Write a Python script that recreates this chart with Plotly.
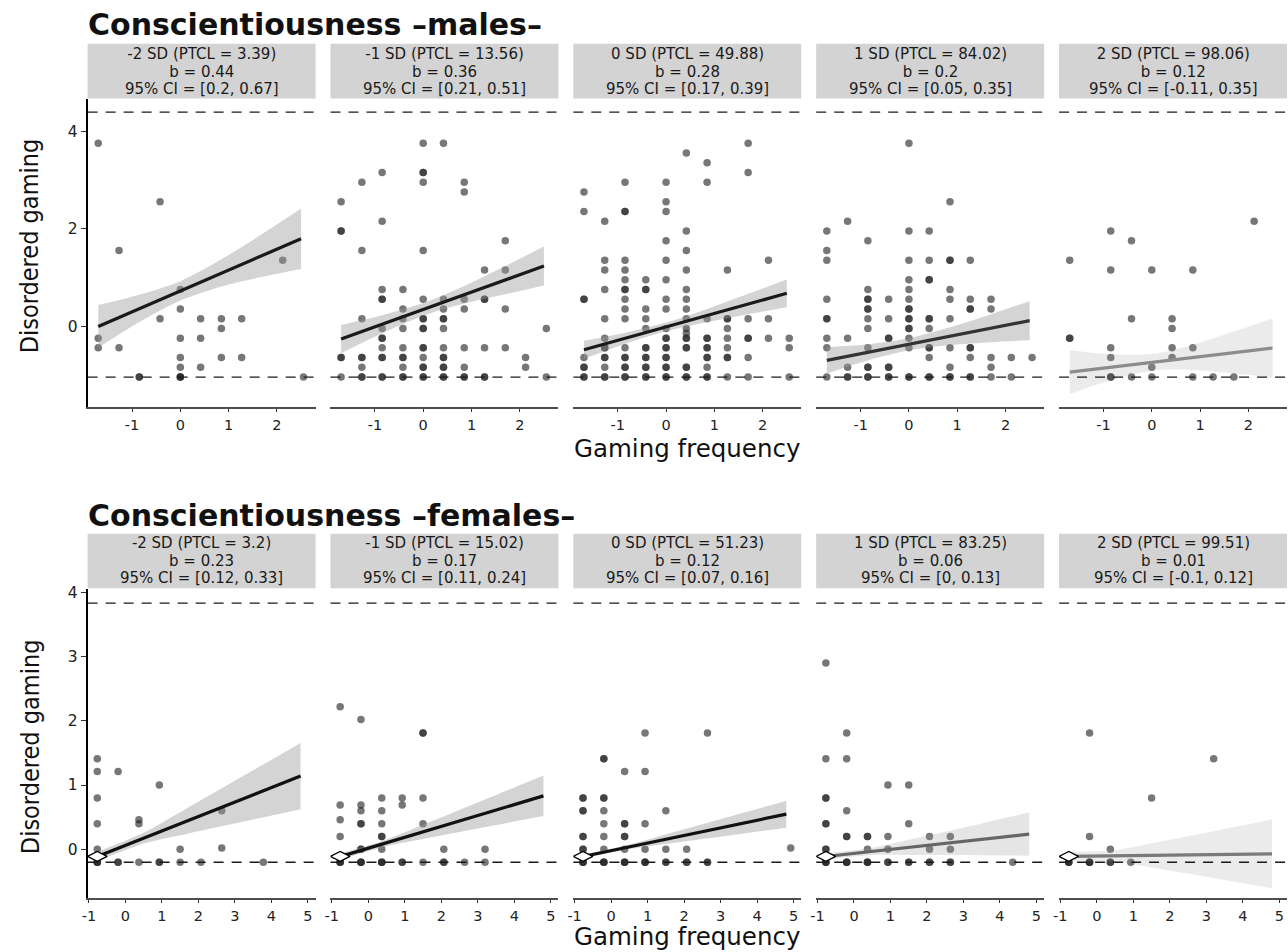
import plotly.graph_objects as go

# ---------------- data ----------------
STRIPS_M = [["-2 SD (PTCL = 3.39)", "b = 0.44", "95% CI = [0.2, 0.67]"],
            ["-1 SD (PTCL = 13.56)", "b = 0.36", "95% CI = [0.21, 0.51]"],
            ["0 SD (PTCL = 49.88)", "b = 0.28", "95% CI = [0.17, 0.39]"],
            ["1 SD (PTCL = 84.02)", "b = 0.2", "95% CI = [0.05, 0.35]"],
            ["2 SD (PTCL = 98.06)", "b = 0.12", "95% CI = [-0.11, 0.35]"]]
STRIPS_F = [["-2 SD (PTCL = 3.2)", "b = 0.23", "95% CI = [0.12, 0.33]"],
            ["-1 SD (PTCL = 15.02)", "b = 0.17", "95% CI = [0.11, 0.24]"],
            ["0 SD (PTCL = 51.23)", "b = 0.12", "95% CI = [0.07, 0.16]"],
            ["1 SD (PTCL = 83.25)", "b = 0.06", "95% CI = [0, 0.13]"],
            ["2 SD (PTCL = 99.51)", "b = 0.01", "95% CI = [-0.1, 0.12]"]]

# points: (gaming frequency, disordered gaming, number of overlapping cases)
M1 = [(-1.70, 3.76, 1), (-0.42, 2.56, 1), (-1.27, 1.56, 1), (2.12, 1.36, 1), (0, 0.76, 1), (0, 0.36, 1),
      (-0.42, 0.16, 1), (0.42, 0.16, 1), (0.85, 0.16, 1), (1.27, 0.16, 1), (0.85, -0.04, 1),
      (-1.70, -0.24, 1), (0, -0.24, 1), (0.42, -0.24, 1), (-1.70, -0.44, 1), (-1.27, -0.44, 1),
      (0, -0.64, 1), (0.85, -0.64, 1), (1.27, -0.64, 1), (0, -0.84, 1), (0.42, -0.84, 1),
      (-0.85, -1.04, 2), (0, -1.04, 3), (2.55, -1.04, 1)]
M2 = [(-1.70, 2.56, 1), (-1.70, 1.96, 2), (-1.70, -0.64, 2), (-1.70, -1.04, 1),
      (-1.27, 2.96, 1), (-1.27, 1.56, 1), (-1.27, 0.16, 1), (-1.27, -0.64, 2), (-1.27, -0.84, 1), (-1.27, -1.04, 2),
      (-0.85, 3.16, 1), (-0.85, 2.16, 1), (-0.85, 0.76, 1), (-0.85, 0.56, 2), (-0.85, -0.04, 1), (-0.85, -0.24, 2),
      (-0.85, -0.44, 1), (-0.85, -0.64, 2), (-0.85, -1.04, 2),
      (-0.42, 0.76, 1), (-0.42, 0.36, 1), (-0.42, 0.16, 1), (-0.42, -0.04, 1), (-0.42, -0.44, 1), (-0.42, -0.64, 2),
      (-0.42, -0.84, 1), (-0.42, -1.04, 2),
      (0, 3.76, 1), (0, 3.16, 2), (0, 2.96, 1), (0, 1.56, 1), (0, 0.56, 1), (0, 0.16, 2), (0, -0.04, 2),
      (0, -0.44, 2), (0, -0.64, 1), (0, -0.84, 2), (0, -1.04, 2),
      (0.42, 3.76, 1), (0.42, 0.56, 1), (0.42, 0.36, 1), (0.42, 0.16, 2), (0.42, -0.04, 1), (0.42, -0.44, 1),
      (0.42, -0.64, 2), (0.42, -0.84, 2), (0.42, -1.04, 2),
      (0.85, 2.96, 1), (0.85, 2.76, 1), (0.85, 0.56, 1), (0.85, 0.36, 1), (0.85, -0.44, 1), (0.85, -0.84, 1), (0.85, -1.04, 2),
      (1.27, 1.16, 1), (1.27, 0.56, 2), (1.27, -0.44, 1), (1.27, -1.04, 2),
      (1.70, 1.76, 1), (1.70, 1.16, 1), (1.70, 0.36, 1), (1.70, -0.44, 1),
      (2.12, -0.64, 1), (2.12, -0.84, 1), (2.55, -0.04, 1), (2.55, -1.04, 1)]
M3 = [(-1.70, 2.76, 1), (-1.70, 2.36, 1), (-1.70, 0.56, 2), (-1.70, -0.64, 1), (-1.70, -0.84, 2), (-1.70, -1.04, 2),
      (-1.27, 2.16, 1), (-1.27, 1.36, 1), (-1.27, 1.16, 1), (-1.27, 0.76, 1), (-1.27, 0.16, 1), (-1.27, -0.24, 1),
      (-1.27, -0.44, 2), (-1.27, -0.64, 2), (-1.27, -0.84, 1), (-1.27, -1.04, 2),
      (-0.85, 2.96, 1), (-0.85, 2.36, 2), (-0.85, 1.36, 1), (-0.85, 1.16, 1), (-0.85, 0.96, 1), (-0.85, 0.76, 2),
      (-0.85, 0.56, 1), (-0.85, 0.36, 1), (-0.85, 0.16, 1), (-0.85, -0.44, 1), (-0.85, -0.64, 2), (-0.85, -0.84, 2),
      (-0.85, -1.04, 2),
      (-0.42, 0.96, 1), (-0.42, 0.76, 2), (-0.42, 0.36, 1), (-0.42, 0.16, 1), (-0.42, -0.04, 1), (-0.42, -0.44, 2),
      (-0.42, -0.64, 2), (-0.42, -0.84, 2), (-0.42, -1.04, 2),
      (0, 2.96, 1), (0, 2.56, 1), (0, 2.36, 1), (0, 1.76, 1), (0, 1.36, 1), (0, 0.96, 1), (0, 0.56, 1), (0, 0.36, 1),
      (0, -0.04, 1), (0, -0.24, 2), (0, -0.44, 2), (0, -0.64, 2), (0, -0.84, 2), (0, -1.04, 2),
      (0.42, 3.56, 1), (0.42, 1.96, 1), (0.42, 1.56, 1), (0.42, 1.16, 1), (0.42, 0.76, 1), (0.42, 0.56, 1),
      (0.42, 0.36, 1), (0.42, 0.16, 1), (0.42, -0.04, 1), (0.42, -0.14, 1), (0.42, -0.24, 2), (0.42, -0.44, 2),
      (0.42, -0.84, 2), (0.42, -1.04, 2),
      (0.85, 3.36, 1), (0.85, 2.96, 1), (0.85, 0.16, 1), (0.85, -0.24, 2), (0.85, -0.44, 2), (0.85, -0.64, 2),
      (0.85, -0.84, 1), (0.85, -1.04, 2),
      (1.27, 1.16, 1), (1.27, 0.16, 2), (1.27, -0.04, 1), (1.27, -0.24, 1), (1.27, -0.44, 1), (1.27, -0.64, 2), (1.27, -1.04, 1),
      (1.70, 3.76, 1), (1.70, 3.16, 1), (1.70, 0.16, 1), (1.70, -0.24, 2), (1.70, -0.64, 1), (1.70, -1.04, 1),
      (2.12, 1.36, 1), (2.12, 0.16, 1), (2.12, -0.24, 1),
      (2.55, -0.24, 1), (2.55, -0.44, 1), (2.55, -1.04, 1)]
M4 = [(-1.70, 1.96, 1), (-1.70, 1.56, 1), (-1.70, 1.36, 1), (-1.70, 0.56, 1), (-1.70, 0.16, 2), (-1.70, -0.24, 1),
      (-1.70, -0.44, 1), (-1.70, -1.04, 1),
      (-1.27, 2.16, 1), (-1.27, -0.24, 1), (-1.27, -0.84, 1), (-1.27, -1.04, 2),
      (-0.85, 1.76, 1), (-0.85, 0.76, 1), (-0.85, 0.56, 2), (-0.85, 0.36, 2), (-0.85, 0.16, 1), (-0.85, -0.04, 1),
      (-0.85, -0.44, 1), (-0.85, -0.84, 2), (-0.85, -1.04, 2),
      (-0.42, 0.56, 1), (-0.42, 0.16, 1), (-0.42, -0.24, 2), (-0.42, -0.84, 2), (-0.42, -1.04, 2),
      (0, 3.76, 1), (0, 1.96, 1), (0, 1.36, 1), (0, 0.96, 1), (0, 0.76, 1), (0, 0.56, 1), (0, 0.36, 2), (0, 0.16, 2),
      (0, -0.04, 2), (0, -0.24, 1), (0, -0.44, 1), (0, -1.04, 2),
      (0.42, 1.96, 1), (0.42, 1.36, 1), (0.42, 0.96, 2), (0.42, 0.16, 2), (0.42, -0.04, 1), (0.42, -0.44, 2),
      (0.42, -0.64, 1), (0.42, -1.04, 2),
      (0.85, 2.56, 1), (0.85, 1.36, 2), (0.85, 0.76, 1), (0.85, 0.56, 1), (0.85, 0.16, 1), (0.85, -0.44, 1),
      (0.85, -0.84, 1), (0.85, -1.04, 2),
      (1.27, 1.36, 1), (1.27, 0.56, 1), (1.27, 0.36, 2), (1.27, -0.44, 2), (1.27, -0.64, 1), (1.27, -1.04, 2),
      (1.70, 0.56, 1), (1.70, 0.36, 1), (1.70, -0.64, 1), (1.70, -0.84, 1), (1.70, -1.04, 1),
      (2.12, -0.64, 1), (2.12, -1.04, 1), (2.55, -0.64, 1)]
M5 = [(-1.70, 1.36, 1), (-1.70, -0.24, 2), (-0.85, 1.96, 1), (-0.85, 1.16, 1), (-0.85, -0.44, 1), (-0.85, -0.64, 1),
      (-0.85, -1.04, 2), (-0.42, 1.76, 1), (-0.42, 0.16, 1), (-0.42, -1.04, 1), (0, 1.16, 1), (0, -0.84, 1),
      (0, -1.04, 1), (0.42, 0.16, 1), (0.42, -0.04, 1), (0.42, -0.44, 1), (0.42, -0.64, 1), (0.85, 1.16, 1),
      (0.85, -0.44, 1), (0.85, -1.04, 1), (1.27, -1.04, 1), (1.70, -1.04, 1), (2.12, 2.16, 1)]

F1 = [(-0.77, 1.41, 1), (-0.77, 1.21, 1), (-0.20, 1.21, 1), (0.93, 1.0, 1), (-0.77, 0.8, 1), (0.37, 0.46, 1),
      (-0.77, 0.4, 1), (0.37, 0.4, 1), (2.64, 0.6, 1), (-0.77, 0.0, 1), (1.50, 0.0, 1), (2.64, 0.02, 1),
      (-0.77, -0.2, 3), (-0.20, -0.2, 2), (0.37, -0.2, 1), (0.93, -0.2, 2), (1.50, -0.2, 1), (2.07, -0.2, 1),
      (3.78, -0.2, 1)]
F2 = [(-0.77, 2.22, 1), (-0.77, 0.69, 1), (-0.77, 0.46, 1), (-0.77, 0.2, 1), (-0.77, -0.2, 3),
      (-0.20, 2.02, 1), (-0.20, 0.69, 1), (-0.20, 0.6, 1), (-0.20, 0.4, 2), (-0.20, 0.0, 2), (-0.20, -0.2, 3),
      (0.37, 0.8, 1), (0.37, 0.6, 1), (0.37, 0.4, 1), (0.37, 0.2, 2), (0.37, 0.0, 1), (0.37, -0.2, 3),
      (0.93, 0.8, 1), (0.93, 0.69, 1), (0.93, -0.2, 2), (1.50, 1.81, 2), (1.50, 0.8, 1), (1.50, 0.4, 1),
      (1.50, -0.2, 1), (2.07, 0.0, 1), (2.07, -0.2, 2), (2.64, -0.2, 1), (3.20, 0.0, 1), (3.20, -0.2, 1)]
F3 = [(-0.77, 0.8, 2), (-0.77, 0.6, 2), (-0.77, 0.2, 2), (-0.77, 0.0, 2), (-0.77, -0.2, 3),
      (-0.20, 1.41, 2), (-0.20, 0.8, 2), (-0.20, 0.6, 1), (-0.20, 0.4, 1), (-0.20, 0.2, 1), (-0.20, 0.0, 1),
      (-0.20, -0.2, 3), (0.37, 1.21, 1), (0.37, 0.4, 2), (0.37, 0.2, 2), (0.37, 0.0, 1), (0.37, -0.2, 3),
      (0.93, 1.81, 1), (0.93, 1.21, 1), (0.93, 0.4, 1), (0.93, 0.0, 1), (0.93, -0.2, 3),
      (1.50, 0.6, 1), (1.50, 0.0, 1), (1.50, -0.2, 2), (2.07, 0.0, 1), (2.07, -0.2, 2),
      (2.64, 1.81, 1), (2.64, -0.2, 2), (4.92, 0.02, 1)]
F4 = [(-0.77, 2.9, 1), (-0.77, 1.41, 1), (-0.77, 0.8, 2), (-0.77, 0.4, 2), (-0.77, 0.0, 2), (-0.77, -0.2, 3),
      (-0.20, 1.81, 1), (-0.20, 1.41, 1), (-0.20, 0.6, 1), (-0.20, 0.2, 2), (-0.20, -0.2, 3),
      (0.37, 0.2, 2), (0.37, 0.0, 1), (0.37, -0.2, 3), (0.93, 1.0, 1), (0.93, 0.2, 1), (0.93, 0.0, 1),
      (0.93, -0.2, 2), (1.50, 1.0, 1), (1.50, 0.4, 1), (1.50, -0.2, 2), (2.07, 0.2, 1), (2.07, 0.0, 1),
      (2.07, -0.2, 2), (2.64, 0.2, 1), (2.64, 0.0, 1), (2.64, -0.2, 2), (4.35, -0.2, 1)]
F5 = [(-0.77, -0.2, 3), (-0.20, 1.81, 1), (-0.20, 0.2, 1), (-0.20, -0.2, 3), (0.37, 0.0, 1), (0.37, -0.2, 2),
      (0.93, -0.2, 1), (1.50, 0.8, 1), (3.20, 1.41, 1)]

# regression fits and 95% bands, read at a few x positions
BX_M = [-1.7, -0.85, 0, 0.85, 1.7, 2.5]
FIT_M = [[0.0, 0.365, 0.73, 1.095, 1.46, 1.80],
         [-0.26, 0.044, 0.347, 0.65, 0.954, 1.24],
         [-0.48, -0.245, -0.01, 0.225, 0.46, 0.68],
         [-0.696, -0.531, -0.366, -0.201, -0.036, 0.119],
         [-0.938, -0.837, -0.737, -0.637, -0.536, -0.442]]
UP_M = [[0.44, 0.65, 0.93, 1.38, 1.90, 2.42],
        [0.03, 0.23, 0.48, 0.83, 1.24, 1.64],
        [-0.295, -0.128, 0.081, 0.36, 0.669, 0.965],
        [-0.426, -0.365, -0.242, -0.019, 0.252, 0.519],
        [-0.488, -0.568, -0.567, -0.381, -0.106, 0.168]]
LO_M = [[-0.44, 0.09, 0.53, 0.82, 1.02, 1.18],
        [-0.55, -0.14, 0.22, 0.47, 0.66, 0.84],
        [-0.665, -0.362, -0.101, 0.09, 0.251, 0.395],
        [-0.966, -0.697, -0.49, -0.383, -0.324, -0.281],
        [-1.388, -1.106, -0.907, -0.893, -0.966, -1.052]]
BX_F = [-0.77, 0.5, 1.5, 2.5, 3.5, 4.8]
FIT_F = [[-0.11, 0.175, 0.399, 0.624, 0.848, 1.14],
         [-0.113, 0.102, 0.272, 0.441, 0.611, 0.832],
         [-0.111, 0.039, 0.157, 0.275, 0.393, 0.547],
         [-0.111, -0.032, 0.031, 0.093, 0.156, 0.237],
         [-0.11, -0.101, -0.094, -0.087, -0.079, -0.07]]
UP_F = [[-0.036, 0.26, 0.579, 0.904, 1.23, 1.655],
        [-0.068, 0.154, 0.382, 0.612, 0.844, 1.147],
        [-0.081, 0.074, 0.231, 0.39, 0.55, 0.757],
        [-0.063, 0.023, 0.148, 0.275, 0.404, 0.572],
        [-0.033, -0.013, 0.093, 0.203, 0.318, 0.465]]
LO_F = [[-0.184, 0.09, 0.219, 0.344, 0.466, 0.625],
        [-0.158, 0.05, 0.162, 0.27, 0.378, 0.517],
        [-0.141, 0.004, 0.083, 0.16, 0.236, 0.337],
        [-0.159, -0.087, -0.086, -0.089, -0.092, -0.098],
        [-0.187, -0.189, -0.281, -0.377, -0.476, -0.605]]
# starting point marker (females)
START_F = (-0.77, -0.11)

# reference (dashed) lines: scale min / max
HLINES_M = [4.40, -1.04]
HLINES_F = [3.83, -0.2]

XT_M = [-1, 0, 1, 2]
XT_F = [-1, 0, 1, 2, 3, 4, 5]
YT_M = [0, 2, 4]
YT_F = [0, 1, 2, 3, 4]

# ---------------- styling ----------------
LINE_COL_M = ["#1a1a1a", "#1a1a1a", "#1a1a1a", "#333333", "#8c8c8c"]
BAND_COL_M = ["rgba(153,153,153,0.42)"] * 4 + ["rgba(153,153,153,0.2)"]
LINE_COL_F = ["#111111", "#111111", "#111111", "#666666", "#7a7a7a"]
BAND_COL_F = ["rgba(153,153,153,0.42)"] * 3 + ["rgba(153,153,153,0.25)", "rgba(153,153,153,0.2)"]

W, H = 1288, 952
PL0, PW, PGAP = 82, 229, 244
TOP_Y = (94, 404)
BOT_Y = (587, 898)
STRIP_M = (38, 93)
STRIP_F = (531, 586)
XR_M = [-1.92, 2.80]
XR_F = [-1.035, 5.21]
YR_M = [-1.663, 4.66]
YR_F = [-0.762, 4.045]
FONT = "DejaVu Sans, Liberation Sans, Arial, sans-serif"


def px_x(p):
    return p / W


def px_y(p):
    return 1 - p / H


fig = go.Figure()
shapes, annotations = [], []
layout_axes = {}

rows = [
    (M1, M2, M3, M4, M5),
    (F1, F2, F3, F4, F5),
]

for r in range(2):
    pts_all = rows[r]
    for i in range(5):
        k = r * 5 + i + 1
        sx = "" if k == 1 else str(k)
        xa, ya = "x" + sx, "y" + sx
        x0 = PL0 + i * PGAP
        yp = TOP_Y if r == 0 else BOT_Y
        # axes
        xt = XT_M if r == 0 else XT_F
        layout_axes["xaxis" + sx] = dict(
            domain=[px_x(x0), px_x(x0 + PW)], anchor=ya,
            range=XR_M if r == 0 else XR_F,
            tickvals=xt, ticktext=[str(v) for v in xt],
            ticks="outside", ticklen=3, tickwidth=1.2, tickcolor="#333333",
            showline=True, linecolor="#4d4d4d", linewidth=1.8,
            showgrid=False, zeroline=False,
            tickfont=dict(family=FONT, size=14.5, color="#222222"),
        )
        yt = YT_M if r == 0 else YT_F
        ydict = dict(
            domain=[px_y(yp[1]), px_y(yp[0])], anchor=xa,
            range=YR_M if r == 0 else YR_F,
            showgrid=False, zeroline=False,
        )
        if i == 0:
            ydict.update(tickvals=yt, ticktext=[str(v) for v in yt],
                         ticks="outside", ticklen=5, tickwidth=1.2, tickcolor="#333333",
                         showline=True, linecolor="#000000", linewidth=2,
                         tickfont=dict(family=FONT, size=15.5, color="#222222"))
        else:
            ydict.update(showticklabels=False, showline=False, ticks="")
        layout_axes["yaxis" + sx] = ydict

        # points (overlapping cases drawn repeatedly -> darker)
        xs, ys = [], []
        for (gx, gy, n) in pts_all[i]:
            for _ in range(n):
                xs.append(gx)
                ys.append(gy)
        fig.add_trace(go.Scatter(x=xs, y=ys, mode="markers", xaxis=xa, yaxis=ya,
                                 marker=dict(size=7.5, color="rgba(35,35,35,0.62)", line=dict(width=0)),
                                 showlegend=False, hoverinfo="skip"))
        # confidence band (lower edge, then upper edge filled to it)
        bx = BX_M if r == 0 else BX_F
        up = (UP_M if r == 0 else UP_F)[i]
        lo = (LO_M if r == 0 else LO_F)[i]
        fit = (FIT_M if r == 0 else FIT_F)[i]
        fig.add_trace(go.Scatter(x=bx, y=lo, mode="lines",
                                 line=dict(width=0, shape="spline", smoothing=0.8),
                                 xaxis=xa, yaxis=ya, showlegend=False, hoverinfo="skip"))
        fig.add_trace(go.Scatter(x=bx, y=up, mode="lines", fill="tonexty",
                                 fillcolor=(BAND_COL_M if r == 0 else BAND_COL_F)[i],
                                 line=dict(width=0, shape="spline", smoothing=0.8),
                                 xaxis=xa, yaxis=ya, showlegend=False, hoverinfo="skip"))
        fig.add_trace(go.Scatter(x=bx, y=fit, mode="lines",
                                 line=dict(color=(LINE_COL_M if r == 0 else LINE_COL_F)[i], width=3.2),
                                 xaxis=xa, yaxis=ya, showlegend=False, hoverinfo="skip"))
        if r == 1:
            fig.add_trace(go.Scatter(x=[START_F[0]], y=[START_F[1]], mode="markers",
                                     marker=dict(symbol="diamond-wide", size=14, color="white",
                                                 line=dict(color="black", width=1.3)),
                                     xaxis=xa, yaxis=ya, showlegend=False, hoverinfo="skip"))
        # dashed reference lines
        for hv in (HLINES_M if r == 0 else HLINES_F):
            shapes.append(dict(type="line", xref=xa + " domain", yref=ya, x0=0, x1=1, y0=hv, y1=hv,
                               line=dict(color="#1a1a1a", width=1.4, dash="10px,8px"), layer="above"))
        # strip (one text block per panel)
        sy = STRIP_M if r == 0 else STRIP_F
        shapes.append(dict(type="rect", xref="paper", yref="paper",
                           x0=px_x(x0), x1=px_x(x0 + PW), y0=px_y(sy[1]), y1=px_y(sy[0]),
                           fillcolor="#d3d3d3", line=dict(width=0), layer="below"))
        labels = (STRIPS_M if r == 0 else STRIPS_F)[i]
        block = "<br>".join('<span style="font-size:15px">%s</span>' % t for t in labels)
        annotations.append(dict(text=block, xref="paper", yref="paper",
                                x=px_x(x0 + PW / 2), y=px_y((sy[0] + sy[1]) / 2),
                                xanchor="center", yanchor="middle", showarrow=False, borderpad=0,
                                font=dict(family=FONT, size=13.6, color="#1a1a1a")))

# titles
for txt, yc in (("Conscientiousness –males–", 19), ("Conscientiousness –females–", 513)):
    annotations.append(dict(text="<b>" + txt + "</b>", xref="paper", yref="paper",
                            x=px_x(80), y=px_y(yc), xanchor="left", yanchor="middle", showarrow=False,
                            font=dict(family="DejaVu Sans, Liberation Sans, Arial", size=30, color="#111111")))
for yb in (461, 952):
    annotations.append(dict(text="Gaming frequency", xref="paper", yref="paper",
                            x=px_x(684), y=px_y(yb), xanchor="center", yanchor="bottom", showarrow=False,
                            borderpad=0,
                            font=dict(family=FONT, size=24.5, color="#111111")))
for yc in (241, 745):
    annotations.append(dict(text="Disordered gaming", xref="paper", yref="paper",
                            x=px_x(24), y=px_y(yc), xanchor="center", yanchor="middle", showarrow=False,
                            textangle=-90,
                            font=dict(family="DejaVu Sans Condensed, Liberation Sans Narrow, Liberation Sans",
                                      size=25, color="#111111")))

fig.update_layout(width=W, height=H, margin=dict(l=0, r=0, t=0, b=0),
                  paper_bgcolor="white", plot_bgcolor="white",
                  shapes=shapes, annotations=annotations, **layout_axes)

fig.write_html("out.html",
               config={"displayModeBar": False},
               post_script=("document.body.style.margin='0px';document.body.style.overflow='hidden';"
                            "var d=document.getElementById('{plot_id}');"
                            "d.style.position='absolute';d.style.left='0px';d.style.top='0px';"))
